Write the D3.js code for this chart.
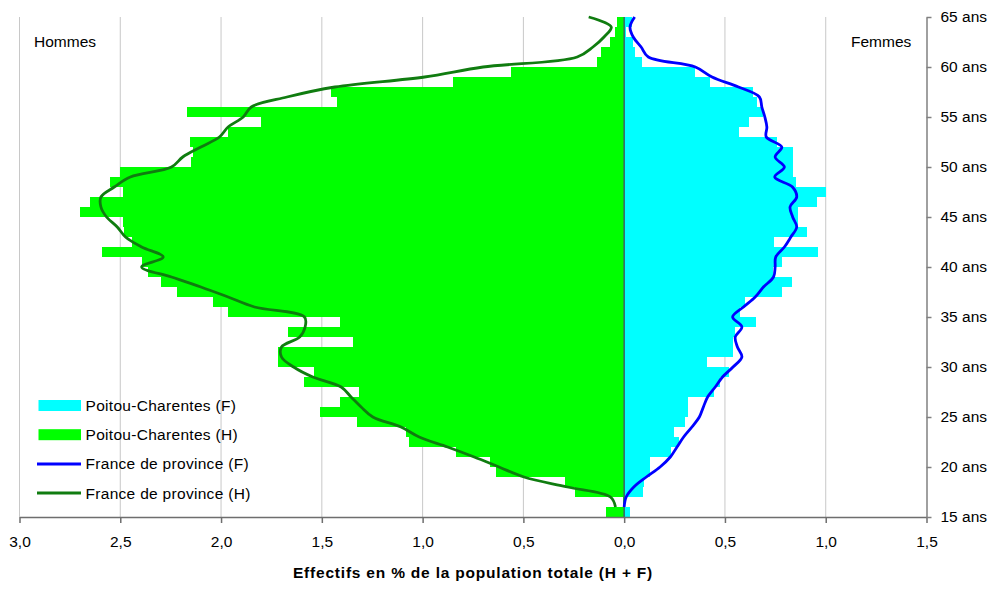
<!DOCTYPE html>
<html>
<head>
<meta charset="utf-8">
<script src="https://cdn.jsdelivr.net/npm/d3@7"></script>
<style>
  html, body { margin: 0; padding: 0; background: #fff; }
  svg text { font-family: "Liberation Sans", Arial, sans-serif; fill: #000; }
</style>
</head>
<body>
<svg id="chart" width="995" height="590"></svg>
<script>
// ---- Data (ages 15 .. 64, in ascending order) ----
const ages = d3.range(15, 65);

// Poitou-Charentes, men (% of total population)
const pcHommes = [0.092, 0.005, 0.246, 0.294, 0.637, 0.667, 0.835, 1.066, 1.083, 1.325,
  1.508, 1.41, 1.314, 1.586, 1.537, 1.716, 1.716, 1.347, 1.67, 1.408,
  1.965, 2.04, 2.22, 2.30, 2.36, 2.39, 2.59, 2.44, 2.48, 2.485,
  2.70, 2.65, 2.485, 2.55, 2.50, 2.15, 2.14, 2.156, 1.965, 1.80,
  2.17, 1.426, 1.454, 0.847, 0.56, 0.134, 0.117, 0.068, 0.043, 0.038];

// Poitou-Charentes, women
const pcFemmes = [0.028, 0.005, 0.094, 0.1, 0.13, 0.13, 0.23, 0.27, 0.249, 0.303,
  0.315, 0.315, 0.447, 0.477, 0.521, 0.41, 0.538, 0.54, 0.551, 0.653,
  0.577, 0.60, 0.782, 0.832, 0.74, 0.782, 0.962, 0.741, 0.906, 0.86,
  0.861, 0.958, 1.002, 0.853, 0.836, 0.836, 0.836, 0.76, 0.572, 0.617,
  0.69, 0.66, 0.64, 0.427, 0.353, 0.089, 0.056, 0.045, 0.007, 0.039];

// France de province, men
const frHommes = [0.043, 0.068, 0.282, 0.497, 0.621, 0.744, 0.876, 1.017, 1.107, 1.247,
  1.305, 1.355, 1.404, 1.545, 1.64, 1.70, 1.70, 1.61, 1.583, 1.586,
  1.834, 1.965, 2.10, 2.246, 2.394, 2.287, 2.394, 2.474, 2.515, 2.568,
  2.596, 2.596, 2.53, 2.45, 2.246, 2.19, 2.10, 2.008, 1.965, 1.89,
  1.85, 1.673, 1.435, 0.99, 0.70, 0.233, 0.155, 0.10, 0.064, 0.176];

// France de province, women
const frFemmes = [0.0, 0.01, 0.048, 0.11, 0.178, 0.229, 0.262, 0.295, 0.336, 0.373,
  0.393, 0.414, 0.452, 0.488, 0.54, 0.584, 0.562, 0.551, 0.584, 0.538,
  0.592, 0.65, 0.691, 0.741, 0.749, 0.752, 0.795, 0.827, 0.856, 0.836,
  0.823, 0.856, 0.835, 0.747, 0.795, 0.749, 0.782, 0.705, 0.708, 0.698,
  0.683, 0.671, 0.567, 0.436, 0.353, 0.12, 0.084, 0.045, 0.029, 0.052];

const xTicks = [-3, -2.5, -2, -1.5, -1, -0.5, 0, 0.5, 1, 1.5];
const yTicks = [15, 20, 25, 30, 35, 40, 45, 50, 55, 60, 65];
const legendItems = [
  {label: "Poitou-Charentes (F)", type: "rect", color: "#00ffff"},
  {label: "Poitou-Charentes (H)", type: "rect", color: "#00ff00"},
  {label: "France de province (F)", type: "line", color: "#0000ff"},
  {label: "France de province (H)", type: "line", color: "#107c10"}
];
const titleText = "Effectifs en % de la population totale (H + F)";

// ---- Layout ----
const svg = d3.select("#chart");
const pLeft = 19.5, pRight = 926.5, pTop = 17, pBottom = 517;

const x = d3.scaleLinear().domain([-3, 1.5]).range([pLeft, pRight]);
const y = d3.scaleLinear().domain([15, 65]).range([pBottom, pTop]);
// lines: one point per age, from 15 to 64, drawn over the full height
const yLine = d3.scaleLinear().domain([15, 64]).range([y(16), y(65)]);

const fmt = d => Math.abs(d).toFixed(1).replace(".", ",");

// gridlines
svg.append("g").selectAll("line")
  .data(xTicks.filter(d => d !== 0 && d !== 1.5))
  .join("line")
  .attr("x1", d => x(d)).attr("x2", d => x(d))
  .attr("y1", pTop).attr("y2", pBottom)
  .attr("stroke", "#c8c8c8").attr("stroke-width", 1);

// bars men
svg.append("g").selectAll("rect")
  .data(ages.map((a, i) => ({a, v: pcHommes[i]})))
  .join("rect")
  .attr("x", d => x(-d.v))
  .attr("width", d => x(0) - x(-d.v))
  .attr("y", d => y(d.a + 1))
  .attr("height", d => y(d.a) - y(d.a + 1))
  .attr("fill", "#00ff00")
  .attr("shape-rendering", "crispEdges");

// bars women
svg.append("g").selectAll("rect")
  .data(ages.map((a, i) => ({a, v: pcFemmes[i]})))
  .join("rect")
  .attr("x", x(0))
  .attr("width", d => x(d.v) - x(0))
  .attr("y", d => y(d.a + 1))
  .attr("height", d => y(d.a) - y(d.a + 1))
  .attr("fill", "#00ffff")
  .attr("shape-rendering", "crispEdges");

// zero line
svg.append("line")
  .attr("x1", x(0)).attr("x2", x(0))
  .attr("y1", pTop).attr("y2", pBottom)
  .attr("stroke", "#3a6464").attr("stroke-width", 1.5);

// lines
const lineGen = d3.line().curve(d3.curveCatmullRom.alpha(0.5));
svg.append("path")
  .attr("d", lineGen(ages.map((a, i) => [x(-frHommes[i]), yLine(a)])))
  .attr("fill", "none").attr("stroke", "#107c10").attr("stroke-width", 2.8)
  .attr("stroke-linejoin", "round");
svg.append("path")
  .attr("d", lineGen(ages.map((a, i) => [x(frFemmes[i]), yLine(a)])))
  .attr("fill", "none").attr("stroke", "#0000ff").attr("stroke-width", 2.8)
  .attr("stroke-linejoin", "round");

// x axis
const xAxis = svg.append("g")
  .attr("transform", `translate(0,${pBottom})`)
  .call(d3.axisBottom(x).tickValues(xTicks).tickFormat(fmt)
    .tickSize(6).tickSizeOuter(0).tickPadding(13));
xAxis.select(".domain").attr("stroke", "#6e6e6e").attr("stroke-width", 1.5);
xAxis.selectAll(".tick line").attr("stroke", "#6e6e6e").attr("stroke-width", 1.5);
xAxis.selectAll("text").style("font-size", "15.5px").attr("fill", "#000");

// y axis (right)
const yAxis = svg.append("g")
  .attr("transform", `translate(${pRight},0)`)
  .call(d3.axisRight(y).tickValues(yTicks).tickFormat(d => d + " ans")
    .tickSize(5).tickSizeOuter(0).tickPadding(9));
yAxis.select(".domain").attr("stroke", "#808080").attr("stroke-width", 1.5);
yAxis.selectAll(".tick line").attr("stroke", "#808080").attr("stroke-width", 1.5);
yAxis.selectAll("text").style("font-size", "15.5px").attr("fill", "#000");

// side labels
svg.append("text").attr("x", 34).attr("y", 47).style("font-size", "15.5px").text("Hommes");
svg.append("text").attr("x", 851).attr("y", 47).style("font-size", "15.5px").text("Femmes");

// title
svg.append("text")
  .attr("x", (pLeft + pRight) / 2).attr("y", 578)
  .attr("text-anchor", "middle")
  .style("font-size", "15.5px").style("font-weight", "bold")
  .style("letter-spacing", "0.8px")
  .text(titleText);

// legend
const lg = svg.append("g");
legendItems.forEach((d, i) => {
  const cy = 405.5 + i * 29.2;
  if (d.type === "rect") {
    lg.append("rect").attr("x", 38.5).attr("y", cy - 5.5).attr("width", 42.5).attr("height", 11)
      .attr("fill", d.color);
  } else {
    lg.append("line").attr("x1", 37).attr("x2", 81).attr("y1", cy).attr("y2", cy)
      .attr("stroke", d.color).attr("stroke-width", 3);
  }
  lg.append("text").attr("x", 85.5).attr("y", cy).attr("dy", "0.36em")
    .style("font-size", "15.5px").style("letter-spacing", "0.3px").text(d.label);
});
</script>
</body>
</html>
